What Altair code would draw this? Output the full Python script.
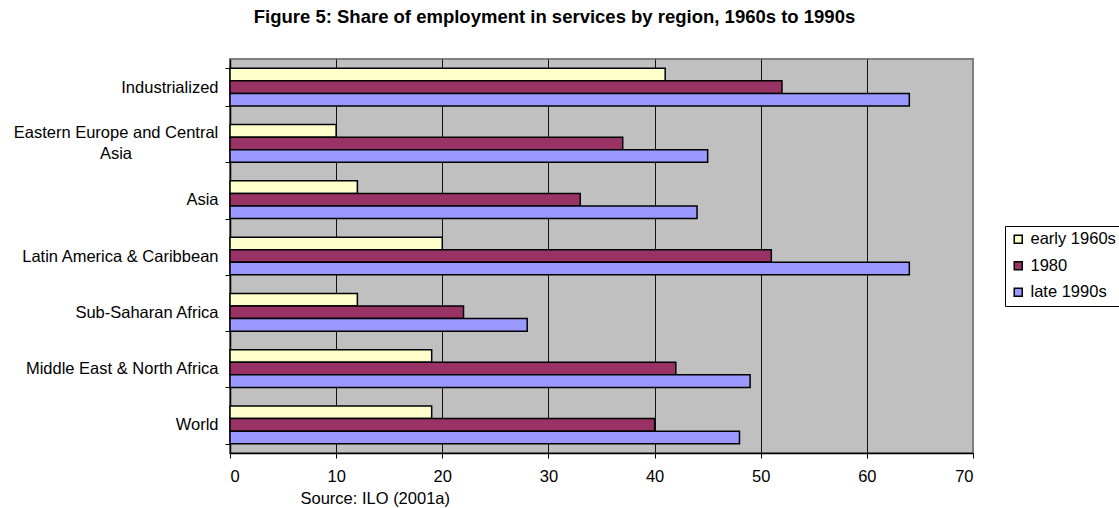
import altair as alt
import pandas as pd

regions = ["Industrialized", "Eastern Europe and Central Asia", "Asia",
           "Latin America & Caribbean", "Sub-Saharan Africa",
           "Middle East & North Africa", "World"]
series = ["early 1960s", "1980", "late 1990s"]
early_1960s = [41, 10, 12, 20, 12, 19, 19]
y1980 = [52, 37, 33, 51, 22, 42, 40]
late_1990s = [64, 45, 44, 64, 28, 49, 48]
colors = ["#FFFFCC", "#993366", "#9999FF"]
x_ticks = [0, 10, 20, 30, 40, 50, 60, 70]

rows = []
for name, vals in zip(series, [early_1960s, y1980, late_1990s]):
    for r, v in zip(regions, vals):
        rows.append({"region": r, "series": name, "value": v})
df = pd.DataFrame(rows)

FONT = "Liberation Sans"
LONG = "Eastern Europe and Central Asia"
label_expr = ("datum.label == '" + LONG + "' ? "
              "['Eastern Europe and Central', 'Asia'] : datum.label")
is_long = "datum.label == '" + LONG + "'"

chart = alt.Chart(df).mark_bar(stroke="#000000", strokeWidth=1.5).encode(
    y=alt.Y("region:N", sort=regions,
            scale=alt.Scale(paddingInner=0.33, paddingOuter=0.165),
            axis=alt.Axis(title=None, labelFont=FONT, labelFontSize=16.5,
                          labelColor="#000", labelLimit=400,
                          labelPadding={"condition": {"test": is_long, "value": 109.5}, "value": 7},
                          labelAlign={"condition": {"test": is_long, "value": "center"}, "value": "right"},
                          labelOffset={"condition": {"test": is_long, "value": -10.5}, "value": 0},
                          labelExpr=label_expr, labelLineHeight=21,
                          tickBand="extent", ticks=True, tickSize=5,
                          tickColor="#000", domainColor="#000",
                          domainWidth=1.5, grid=False)),
    yOffset=alt.YOffset("series:N", sort=series,
                        scale=alt.Scale(domain=series, paddingInner=0, paddingOuter=0)),
    x=alt.X("value:Q",
            scale=alt.Scale(domain=[0, 70], nice=False, zero=True),
            axis=alt.Axis(values=x_ticks, title="Source: ILO (2001a)",
                          titleFont=FONT, titleFontSize=16.5, titleFontWeight="normal",
                          titleColor="#000", titleAnchor="start", titleAlign="left",
                          titleX=70, titleY=50, titleBaseline="alphabetic",
                          labelFont=FONT, labelFontSize=16.5, labelColor="#000",
                          labelPadding=10, tickSize=5, tickColor="#000",
                          domainColor="#000", domainWidth=1.5,
                          grid=True, gridColor="#111111", gridWidth=1,
                          gridOpacity={"condition": {"test": "datum.value === 70 || datum.value === 0",
                                                     "value": 0}, "value": 1})),
    color=alt.Color("series:N", sort=series,
                    scale=alt.Scale(domain=series, range=colors),
                    legend=alt.Legend(title=None, orient="none", legendX=775, legendY=167,
                                      labelFont=FONT, labelFontSize=16.5, labelColor="#000",
                                      symbolType="square", symbolSize=64,
                                      symbolStrokeColor="#000", symbolStrokeWidth=1.5,
                                      strokeColor="#000", fillColor="#FFFFFF",
                                      padding=5, rowPadding=9.5, labelOffset=4)),
).properties(
    width=743, height=394,
    background="#FFFFFF",
    title=alt.TitleParams("Figure 5: Share of employment in services by region, 1960s to 1990s",
                          font=FONT, fontSize=18.5, fontWeight="bold", color="#000",
                          anchor="middle", frame="group", dx=-47, offset=10,
                          baseline="alphabetic"),
    padding={"left": 230, "top": 59, "right": 146, "bottom": 55},
    autosize=alt.AutoSizeParams(type="none"),
).configure_view(
    fill="#C0C0C0", stroke="#808080", strokeWidth=2
)

chart.save("out.html", embed_options={"renderer": "svg", "actions": False})
